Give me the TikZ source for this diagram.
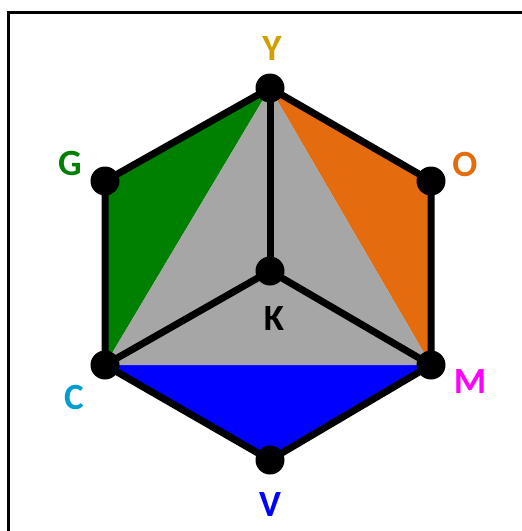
\documentclass[tikz,border=0pt]{standalone}
\usepackage{fontspec}
\setmainfont{Carlito}
\definecolor{ygold}{RGB}{210,158,0}
\definecolor{ggreen}{RGB}{0,128,0}
\definecolor{oorange}{RGB}{228,108,14}
\definecolor{ccyan}{RGB}{0,158,208}
\definecolor{mmag}{RGB}{255,0,255}
\definecolor{vblue}{RGB}{0,0,255}
\definecolor{kgray}{RGB}{166,166,166}
\tikzset{
  edge/.style={line width=7pt,line join=round},
  spoke/.style={line width=7pt},
  vdot/.style={circle,fill=black,minimum size=29pt,inner sep=0pt},
  vlabel/.style={font=\fontsize{37}{40}\selectfont\bfseries,inner sep=0pt}
}

\begin{document}
\begin{tikzpicture}[x=1pt,y=-1pt]
\useasboundingbox (0,0) rectangle (522,531);
\draw[line width=3pt] (8.5,531)--(8.5,12.5)--(522,12.5);
% vertices
\coordinate (Y) at (270,88);\coordinate (G) at (105,181);\coordinate (O) at (431,181);
\coordinate (C) at (105,365);\coordinate (M) at (431,365);\coordinate (V) at (270,460);
\coordinate (K) at (270,271);
% faces
\fill[ggreen] (Y)--(G)--(C)--cycle;
\fill[oorange] (Y)--(O)--(M)--cycle;
\fill[vblue] (C)--(V)--(M)--cycle;
\fill[kgray] (Y)--(C)--(M)--cycle;
% edges
\draw[edge] (Y)--(O)--(M)--(V)--(C)--(G)--cycle;
\draw[spoke] (K)--(Y);\draw[spoke] (K)--(C);\draw[spoke] (K)--(M);
\foreach \p in {Y,G,O,C,M,V,K} {\node[vdot] (dot\p) at (\p) {};}
% labels
\node[vlabel,text=ygold] (labY) at (272,48) {Y};
\node[vlabel,text=ggreen] (labG) at (70,163) {G};
\node[vlabel,text=oorange] (labO) at (465,164) {O};
\node[vlabel,text=ccyan] (labC) at (74,397) {C};
\node[vlabel,text=mmag] (labM) at (470,381) {M};
\node[vlabel,text=vblue] (labV) at (270,504) {V};
\node[vlabel,text=black] (labK) at (274,318) {K};
\end{tikzpicture}
\end{document}
